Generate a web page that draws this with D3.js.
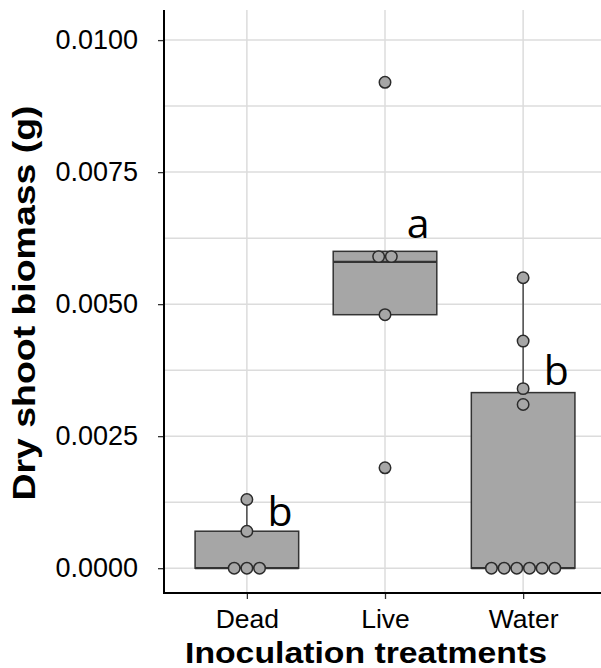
<!DOCTYPE html>
<html lang="en">
<head>
    <meta charset="UTF-8">
    <title>Dry shoot biomass</title>
    <script src="https://cdn.jsdelivr.net/npm/d3@7/dist/d3.min.js"></script>
    <style>
        body { margin: 0; background: #fff; }
        svg { display: block; }
        text { font-family: "Liberation Sans", Arial, sans-serif; fill: #000; }
    </style>
</head>
<body>
    <svg id="chart" width="601" height="668"></svg>
    <script>
        var categories = ["Dead", "Live", "Water"];
        var deadValues = [0, 0, 0, 0.0007, 0.0013];
        var liveValues = [0.0019, 0.0048, 0.0058, 0.0060, 0.0092];
        var waterValues = [0, 0, 0, 0, 0, 0, 0.0031, 0.0034, 0.0043, 0.0055];
        var groupLetters = ["b", "a", "b"];
        var letterY = [0.0008, 0.00625, 0.00347];
        var yTicks = [0, 0.0025, 0.005, 0.0075, 0.01];
        var yMinor = [0.00125, 0.00375, 0.00625, 0.00875];

        var groups = [deadValues, liveValues, waterValues];

        var svg = d3.select("#chart");
        var pLeft = 164, pRight = 606, pTop = 10, pBottom = 593;

        var x = d3.scalePoint().domain(categories).range([pLeft, pRight]).padding(0.6);
        var y = d3.scaleLinear().domain([-0.00047, 0.01057]).range([pBottom, pTop]);
        var step = x.step();
        var boxW = step * 0.75;

        // grid
        var grid = svg.append("g");
        grid.selectAll(".h").data(yTicks.concat(yMinor)).enter().append("line")
            .attr("x1", pLeft).attr("x2", 601)
            .attr("y1", function (d) { return y(d); }).attr("y2", function (d) { return y(d); })
            .attr("stroke", "#dcdcdc").attr("stroke-width", 1.5);
        grid.selectAll(".v").data(categories).enter().append("line")
            .attr("x1", function (d) { return x(d); }).attr("x2", function (d) { return x(d); })
            .attr("y1", pTop).attr("y2", pBottom)
            .attr("stroke", "#dcdcdc").attr("stroke-width", 1.5);

        // box stats (type 7 quantiles, 1.5 IQR whiskers)
        var stats = groups.map(function (vals, i) {
            var s = vals.slice().sort(d3.ascending);
            var q1 = d3.quantileSorted(s, 0.25), med = d3.quantileSorted(s, 0.5), q3 = d3.quantileSorted(s, 0.75);
            var iqr = q3 - q1;
            var lo = d3.min(s.filter(function (v) { return v >= q1 - 1.5 * iqr; }));
            var hi = d3.max(s.filter(function (v) { return v <= q3 + 1.5 * iqr; }));
            return { cat: categories[i], q1: q1, med: med, q3: q3, lo: lo, hi: hi };
        });

        var boxes = svg.append("g").selectAll("g").data(stats).enter().append("g");
        boxes.append("line")
            .attr("x1", function (d) { return x(d.cat); }).attr("x2", function (d) { return x(d.cat); })
            .attr("y1", function (d) { return y(d.q3); }).attr("y2", function (d) { return y(d.hi); })
            .attr("stroke", "#333").attr("stroke-width", 1.3);
        boxes.append("line")
            .attr("x1", function (d) { return x(d.cat); }).attr("x2", function (d) { return x(d.cat); })
            .attr("y1", function (d) { return y(d.q1); }).attr("y2", function (d) { return y(d.lo); })
            .attr("stroke", "#333").attr("stroke-width", 1.3);
        boxes.append("rect")
            .attr("x", function (d) { return x(d.cat) - boxW / 2; })
            .attr("width", boxW)
            .attr("y", function (d) { return y(d.q3); })
            .attr("height", function (d) { return y(d.q1) - y(d.q3); })
            .attr("fill", "#a6a6a6").attr("stroke", "#333").attr("stroke-width", 1.5);
        boxes.append("line")
            .attr("x1", function (d) { return x(d.cat) - boxW / 2; }).attr("x2", function (d) { return x(d.cat) + boxW / 2; })
            .attr("y1", function (d) { return y(d.med); }).attr("y2", function (d) { return y(d.med); })
            .attr("stroke", "#333").attr("stroke-width", 2.2);

        // dot plot, dot-density binning, centred stacks
        var binwidth = 0.00024;
        var diam = y(0) - y(binwidth);
        var dots = [];
        groups.forEach(function (vals, i) {
            var s = vals.slice().sort(d3.ascending);
            var k = 0;
            while (k < s.length) {
                var start = s[k], bin = [];
                while (k < s.length && s[k] - start < binwidth) { bin.push(s[k]); k++; }
                var c = (bin[0] + bin[bin.length - 1]) / 2;
                bin.forEach(function (v, j) {
                    dots.push({ cat: categories[i], v: c, off: (j - (bin.length - 1) / 2) * diam });
                });
            }
        });
        svg.append("g").selectAll("circle").data(dots).enter().append("circle")
            .attr("cx", function (d) { return x(d.cat) + d.off; })
            .attr("cy", function (d) { return y(d.v); })
            .attr("r", diam / 2 - 0.6)
            .attr("fill", "#a6a6a6").attr("stroke", "#2b2b2b").attr("stroke-width", 1.5);

        // letters
        svg.append("g").selectAll("text").data(categories).enter().append("text")
            .attr("x", function (d) { return x(d) + step * 0.24; })
            .attr("y", function (d, i) { return y(letterY[i]); })
            .attr("text-anchor", "middle")
            .style("font-family", "'Open Sans', sans-serif")
            .style("font-size", "41px")
            .text(function (d, i) { return groupLetters[i]; });

        // axes
        var yAxis = svg.append("g").attr("transform", "translate(" + pLeft + ",0)")
            .call(d3.axisLeft(y).tickValues(yTicks).tickSize(6).tickPadding(20)
                .tickFormat(d3.format(".4f")));
        yAxis.select(".domain").remove();
        yAxis.selectAll(".tick line").attr("stroke", "#333").attr("stroke-width", 1.3);
        yAxis.selectAll(".tick text").style("font-size", "27px").attr("fill", "#111");

        var xAxis = svg.append("g").attr("transform", "translate(0," + pBottom + ")")
            .call(d3.axisBottom(x).tickSize(6).tickPadding(10));
        xAxis.select(".domain").remove();
        xAxis.selectAll(".tick line").attr("stroke", "#333").attr("stroke-width", 1.3);
        xAxis.selectAll(".tick text").style("font-size", "26.5px").attr("fill", "#111");

        svg.append("line").attr("x1", pLeft).attr("x2", pLeft).attr("y1", pTop).attr("y2", pBottom + 1)
            .attr("stroke", "#000").attr("stroke-width", 2);
        svg.append("line").attr("x1", pLeft - 1).attr("x2", 601).attr("y1", pBottom).attr("y2", pBottom)
            .attr("stroke", "#000").attr("stroke-width", 2);

        // titles
        svg.append("text")
            .attr("x", 366).attr("y", 663)
            .attr("text-anchor", "middle")
            .attr("textLength", 362).attr("lengthAdjust", "spacingAndGlyphs")
            .style("font-size", "30px").style("font-weight", "bold")
            .text("Inoculation treatments");
        svg.append("text")
            .attr("transform", "translate(35,303) rotate(-90)")
            .attr("text-anchor", "middle")
            .attr("textLength", 395).attr("lengthAdjust", "spacingAndGlyphs")
            .style("font-size", "31px").style("font-weight", "bold")
            .text("Dry shoot biomass (g)");
    </script>
</body>
</html>
